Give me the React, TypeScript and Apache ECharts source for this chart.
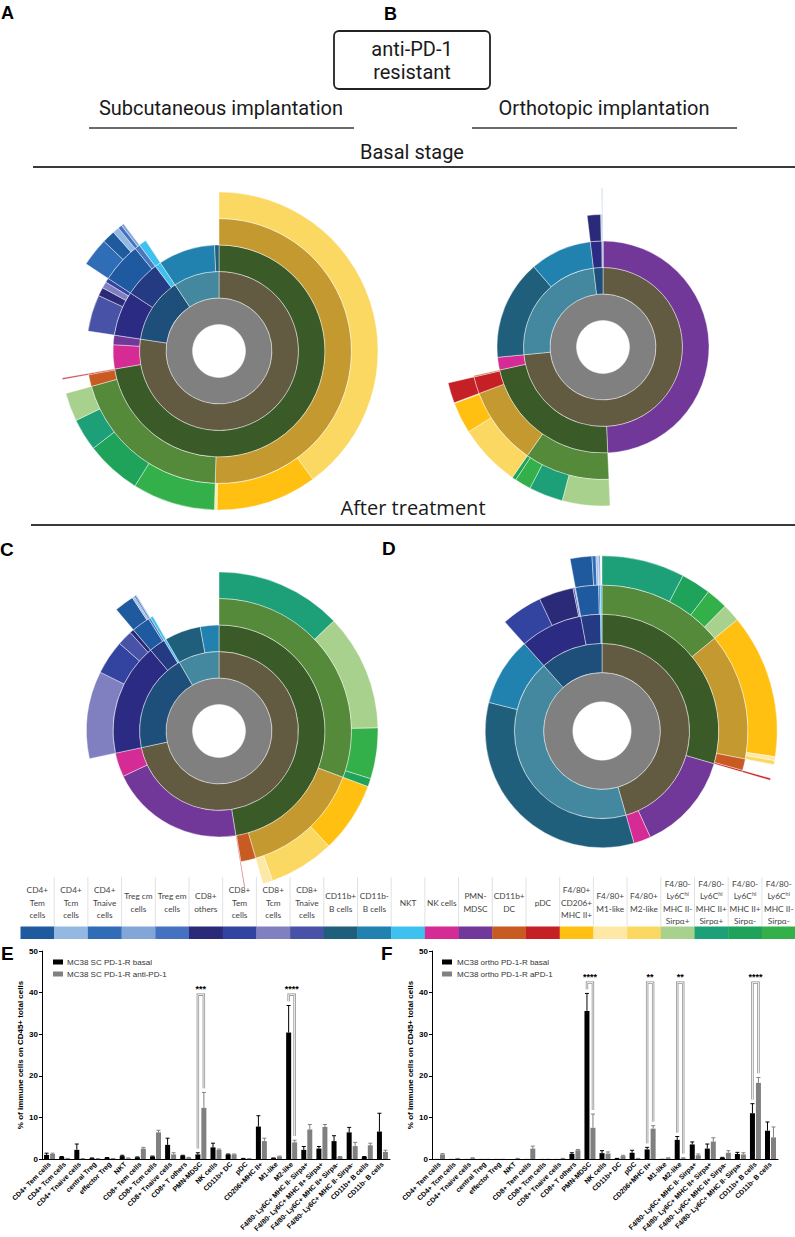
import React, { useEffect, useRef } from 'react';
import * as echarts from 'echarts';

// ---------------- data ----------------
const CATEGORIES = [
  'CD4+ Tem cells', 'CD4+ Tcm cells', 'CD4+ Tnaive cells', 'central Treg', 'effector Treg', 'NKT',
  'CD8+ Tem cells', 'CD8+ Tcm cells', 'CD8+ Tnaive cells', 'CD8+ T others', 'PMN-MDSC', 'NK cells',
  'CD11b+ DC', 'pDC', 'CD206+MHC II+', 'M1-like', 'M2-like',
  'F4/80- Ly6C+ MHC II- Sirpa+', 'F4/80- Ly6C+ MHC II+ Sirpa+', 'F4/80- Ly6C+ MHC II+ Sirpa-',
  'F4/80- Ly6C+ MHC II- Sirpa-', 'CD11b+ B cells', 'CD11b- B cells',
];

// panel E (subcutaneous)
const SC_BASAL = [1.0, 0.5, 2.2, 0.2, 0.3, 0.7, 0.4, 0.6, 3.4, 0.8, 1.1, 2.8, 1.1, 0.1, 7.8, 0.2, 30.4, 2.2, 2.5, 4.3, 6.4, 0.5, 6.6];
const SC_BASAL_ERR = [1.4, 0.6, 3.6, 0.25, 0.35, 0.9, 0.5, 0.7, 5.0, 0.9, 1.5, 3.8, 1.2, 0.15, 10.4, 0.25, 36.9, 3.0, 3.0, 5.6, 7.6, 0.6, 11.0];
const SC_TREATED = [1.2, 0.1, 0.05, 0.05, 0.1, 0.2, 2.5, 6.4, 1.1, 0.3, 12.3, 2.2, 1.1, 0.05, 4.3, 0.6, 4.0, 7.1, 7.7, 0.5, 3.1, 3.3, 1.7];
const SC_TREATED_ERR = [1.4, 0.15, 0.1, 0.1, 0.15, 0.25, 2.8, 6.9, 1.5, 0.4, 16.0, 2.4, 1.2, 0.1, 5.0, 0.7, 4.5, 8.3, 8.3, 0.6, 4.0, 3.8, 2.1];

// panel F (orthotopic)
const ORTHO_BASAL = [0.02, 0.02, 0.02, 0.02, 0.02, 0.02, 0.02, 0.02, 0.02, 1.2, 35.6, 1.4, 0.1, 1.5, 2.3, 0.05, 4.6, 3.5, 2.5, 0.3, 1.2, 11.0, 6.8];
const ORTHO_BASAL_ERR = [0.02, 0.02, 0.02, 0.02, 0.02, 0.02, 0.02, 0.02, 0.02, 1.5, 39.8, 2.0, 0.15, 2.1, 2.8, 0.05, 5.4, 4.1, 3.6, 0.4, 1.6, 13.3, 8.9];
const ORTHO_TREATED = [1.1, 0.1, 0.2, 0.05, 0.05, 0.1, 2.5, 0.05, 0.1, 2.1, 7.5, 1.3, 0.7, 0.1, 7.3, 0.2, 0.2, 0.9, 4.2, 1.5, 1.1, 18.3, 5.2];
const ORTHO_TREATED_ERR = [1.3, 0.15, 0.3, 0.05, 0.05, 0.15, 3.1, 0.05, 0.15, 2.3, 10.8, 1.7, 0.9, 0.15, 8.0, 0.3, 0.3, 1.2, 5.1, 2.0, 1.5, 19.6, 7.7];

const SIG_E = [{ cat: 10, label: '***' }, { cat: 16, label: '****' }];
const SIG_F = [{ cat: 10, label: '****' }, { cat: 14, label: '**' }, { cat: 16, label: '**' }, { cat: 21, label: '****' }];

// colours of each cell type (category order)
const CELL_COLORS = [
  '#1f5a9e', '#93b8e2', '#2f6db6', '#82a6d8', '#4472c0', '#3fc1f0',
  '#3343a0', '#8080c0', '#4853a8', '#2a2a78', '#713899', '#d42b94',
  '#c75b22', '#c42026', '#ffc011', '#fde9a5', '#fbd862',
  '#a9d18e', '#1d9f78', '#1fa25a', '#34b04a', '#1f5f7b', '#2182b0',
];

const LEGEND_ORDER = [0, 1, 2, 3, 4, 9, 6, 7, 8, 21, 22, 5, 11, 10, 12, 13, 14, 15, 16, 17, 18, 19, 20];
const LEGEND_LABELS = [
  'CD4+\nTem\ncells', 'CD4+\nTcm\ncells', 'CD4+\nTnaive\ncells', 'Treg cm\ncells', 'Treg em\ncells',
  'CD8+\nothers', 'CD8+\nTem\ncells', 'CD8+\nTcm\ncells', 'CD8+\nTnaive\ncells', 'CD11b+\nB cells',
  'CD11b-\nB cells', 'NKT', 'NK cells', 'PMN-\nMDSC', 'CD11b+\nDC', 'pDC', 'F4/80+\nCD206+\nMHC II+',
  'F4/80+\nM1-like', 'F4/80+\nM2-like', 'F4/80-\nLy6C{s|hi}\nMHC II-\nSirpα+', 'F4/80-\nLy6C{s|hi}\nMHC II+\nSirpα+',
  'F4/80-\nLy6C{s|hi}\nMHC II+\nSirpα-', 'F4/80-\nLy6C{s|hi}\nMHC II-\nSirpα-',
];

// sunburst hierarchy: leaves refer to category indices
type TreeNode = { name?: string; color?: string; children?: TreeNode[]; leaf?: number };
const HIERARCHY: TreeNode = {
  name: 'CD45+ cells', color: '#808080', children: [
    { name: 'Myeloid cells', color: '#635b41', children: [
      { name: 'CD11b+ myeloid cells', color: '#3a5a28', children: [
        { name: 'F4/80+ macrophages', color: '#c49a30', children: [{ leaf: 14 }, { leaf: 15 }, { leaf: 16 }] },
        { name: 'F4/80- Ly6Chi', color: '#548a3a', children: [{ leaf: 17 }, { leaf: 18 }, { leaf: 19 }, { leaf: 20 }] },
        { leaf: 12 },
        { name: 'CD11b- DC', color: '#c42026', children: [{ leaf: 13 }] },
      ] },
      { leaf: 11 },
      { leaf: 10 },
    ] },
    { name: 'T cells', color: '#1d4f7a', children: [
      { name: 'CD4+ T cells', color: '#243a82', children: [
        { name: 'CD4+ Tconv', color: '#1f5aa0', children: [{ leaf: 0 }, { leaf: 1 }, { leaf: 2 }] },
        { name: 'Treg', color: '#4a78c0', children: [{ leaf: 3 }, { leaf: 4 }] },
      ] },
      { name: 'CD8+ T cells', color: '#2b2b84', children: [{ leaf: 6 }, { leaf: 7 }, { leaf: 8 }, { leaf: 9 }] },
      { name: 'NKT cells', color: '#3fc1f0', children: [{ leaf: 5 }] },
    ] },
    { name: 'B cells', color: '#4488a0', children: [{ leaf: 21 }, { leaf: 22 }] },
  ],
};

// ---------------- builders ----------------
function buildTree(node: TreeNode, values: number[]): any {
  if (node.leaf !== undefined) {
    return { name: CATEGORIES[node.leaf], value: values[node.leaf], itemStyle: { color: CELL_COLORS[node.leaf] } };
  }
  return { name: node.name, itemStyle: { color: node.color }, children: (node.children || []).map((c) => buildTree(c, values)) };
}

function sunburst(values: number[], cx: number, cy: number, ring: number) {
  const levels: any[] = [{}];
  for (let d = 1; d <= 5; d++) levels.push({ r0: ring * d, r: ring * (d + 1) });
  return {
    type: 'sunburst', center: [cx, cy], radius: [ring, ring * 6], sort: 'desc', startAngle: 90, clockwise: true,
    nodeClick: false, silent: true, label: { show: false },
    itemStyle: { borderColor: 'rgba(255,255,255,0.6)', borderWidth: 0.7 },
    levels, data: [buildTree(HIERARCHY, values)],
  };
}

const BAR_W = 5;
const BAR_OFF = 3;
const FONT = 'Liberation Sans';

function errSeries(values: number[], errs: number[], sign: number, color: string, idx: number) {
  return {
    type: 'custom', xAxisIndex: idx, yAxisIndex: idx, silent: true, z: 3,
    encode: { x: 0, y: 1 },
    data: values.map((v, i) => [i, v, errs[i]]),
    renderItem: (params: any, api: any) => {
      const v = api.value(1), e = api.value(2);
      if (!(e > v + 0.02)) return null;
      const b = api.coord([api.value(0), v]);
      const t = api.coord([api.value(0), e]);
      const x = b[0] + sign * BAR_OFF;
      return {
        type: 'group', children: [
          { type: 'line', shape: { x1: x, y1: b[1], x2: x, y2: t[1] }, style: { stroke: color, lineWidth: 1 } },
          { type: 'line', shape: { x1: x - 2, y1: t[1], x2: x + 2, y2: t[1] }, style: { stroke: color, lineWidth: 1 } },
        ],
      };
    },
  };
}

function sigSeries(sigs: { cat: number; label: string }[], top: number, errA: number[], errB: number[], idx: number) {
  return {
    type: 'custom', xAxisIndex: idx, yAxisIndex: idx, silent: true, z: 4,
    encode: { x: 0, y: 1 },
    data: sigs.map((s) => [s.cat, top, errA[s.cat] + 1.0, errB[s.cat] + 1.0]),
    renderItem: (params: any, api: any) => {
      const c = api.value(0);
      const pt = api.coord([c, api.value(1)]);
      const pl = api.coord([c, api.value(2)]);
      const pr = api.coord([c, api.value(3)]);
      const xl = pt[0] - BAR_OFF, xr = pt[0] + BAR_OFF;
      const pts = [[xl, pl[1]], [xl, pt[1]], [xr, pt[1]], [xr, pr[1]]];
      return {
        type: 'group', children: [
          { type: 'polyline', shape: { points: pts }, style: { stroke: '#8a8a8a', lineWidth: 2.4, fill: 'none' } },
          { type: 'polyline', shape: { points: pts }, style: { stroke: '#ffffff', lineWidth: 0.9, fill: 'none' } },
          { type: 'text', style: { text: sigs[params.dataIndex].label, x: pt[0], y: pt[1] - 1, align: 'center', verticalAlign: 'bottom', fontSize: 9, fontWeight: 'bold', fontFamily: FONT, fill: '#000' } },
        ],
      };
    },
  };
}

function xAxis(idx: number) {
  return {
    type: 'category', gridIndex: idx, data: CATEGORIES,
    axisLine: { lineStyle: { color: '#000', width: 1 } }, axisTick: { show: false },
    axisLabel: { interval: 0, rotate: 45, fontSize: 7, fontWeight: 'bold', fontFamily: FONT, color: '#000', margin: 4 },
  };
}
function yAxis(idx: number) {
  return {
    type: 'value', gridIndex: idx, min: 0, max: 50, interval: 10,
    name: '% of immune cells on CD45+ total cells', nameLocation: 'middle', nameGap: 18,
    nameTextStyle: { fontSize: 8, fontWeight: 'bold', fontFamily: FONT, color: '#000' },
    axisLine: { show: true, lineStyle: { color: '#000', width: 1 } },
    axisTick: { show: true, length: 3, lineStyle: { color: '#000' } },
    axisLabel: { fontSize: 8, fontWeight: 'bold', fontFamily: FONT, color: '#000', margin: 4 },
    splitLine: { show: false },
  };
}

// ---------------- graphic (header, legend strip) ----------------
function txt(text: string, x: number, y: number, size: number, opts: any = {}) {
  return {
    type: 'text', silent: true,
    style: { text, x, y, fontSize: size, fontFamily: opts.family || 'Roboto', fontWeight: opts.weight || 'normal', fill: opts.fill || '#1a1a1a', align: opts.align || 'center', verticalAlign: 'middle' },
  };
}
function hline(x1: number, x2: number, y: number, w = 1.6) {
  return { type: 'line', silent: true, shape: { x1, y1: y, x2, y2: y }, style: { stroke: '#3a3a3a', lineWidth: w } };
}

const graphics: any[] = [
  txt('A', 1, 13, 18, { family: FONT, weight: 'bold', align: 'left', fill: '#000' }),
  txt('B', 384, 14, 18, { family: FONT, weight: 'bold', align: 'left', fill: '#000' }),
  { type: 'rect', silent: true, shape: { x: 334, y: 31, width: 156, height: 58, r: 5 }, style: { fill: '#fff', stroke: '#222', lineWidth: 1.8 } },
  txt('anti-PD-1', 412, 49, 20),
  txt('resistant', 412, 72, 20),
  txt('Subcutaneous implantation', 221, 108, 20),
  hline(89, 354, 128),
  txt('Orthotopic implantation', 604, 108, 20),
  hline(472, 737, 128),
  txt('Basal stage', 412, 152, 20),
  hline(33, 795, 167, 2),
  txt('After treatment', 413, 507, 20, { family: 'Open Sans' }),
  hline(31, 795, 525, 2),
  txt('C', 0, 549, 19, { family: FONT, weight: 'bold', align: 'left', fill: '#000' }),
  txt('D', 382, 548, 19, { family: FONT, weight: 'bold', align: 'left', fill: '#000' }),
  txt('E', 1, 953, 19, { family: FONT, weight: 'bold', align: 'left', fill: '#000' }),
  txt('F', 381, 953, 19, { family: FONT, weight: 'bold', align: 'left', fill: '#000' }),
  // bar-chart legends
  { type: 'rect', silent: true, shape: { x: 53, y: 959.5, width: 10, height: 5 }, style: { fill: '#000' } },
  txt('MC38 SC PD-1-R basal', 67, 962, 8, { family: FONT, align: 'left', fill: '#333' }),
  { type: 'rect', silent: true, shape: { x: 53, y: 971.5, width: 10, height: 5 }, style: { fill: '#808080' } },
  txt('MC38 SC PD-1-R anti-PD-1', 67, 974, 8, { family: FONT, align: 'left', fill: '#333' }),
  { type: 'rect', silent: true, shape: { x: 442, y: 959.5, width: 10, height: 5 }, style: { fill: '#000' } },
  txt('MC38 ortho PD-1-R basal', 457, 962, 8, { family: FONT, align: 'left', fill: '#333' }),
  { type: 'rect', silent: true, shape: { x: 442, y: 971.5, width: 10, height: 5 }, style: { fill: '#808080' } },
  txt('MC38 ortho PD-1-R aPD-1', 457, 974, 8, { family: FONT, align: 'left', fill: '#333' }),
];

const LEG_X0 = 20.5, LEG_W = 33.7;
LEGEND_ORDER.forEach((cat, i) => {
  const x0 = LEG_X0 + i * LEG_W;
  if (i > 0) graphics.push({ type: 'line', silent: true, shape: { x1: x0, y1: 877, x2: x0, y2: 926 }, style: { stroke: '#e2e2e2', lineWidth: 1 } });
  graphics.push({
    type: 'text', silent: true,
    style: {
      text: LEGEND_LABELS[i], x: x0 + LEG_W / 2, y: 902.5, align: 'center', verticalAlign: 'middle',
      fontSize: 8.3, fontFamily: 'Lato', fill: '#444', lineHeight: 12.3,
      rich: { s: { fontSize: 5.5, fontFamily: 'Lato', fill: '#444', padding: [0, 0, 5, 0] } },
    },
  });
  graphics.push({ type: 'rect', silent: true, shape: { x: x0, y: 926.5, width: LEG_W + 0.3, height: 12.5 }, style: { fill: CELL_COLORS[cat] } });
});

const option: any = {
  animation: false,
  backgroundColor: '#ffffff',
  grid: [
    { left: 42, top: 951, width: 348, height: 208 },
    { left: 432, top: 951, width: 346, height: 208 },
  ],
  xAxis: [xAxis(0), xAxis(1)],
  yAxis: [yAxis(0), yAxis(1)],
  graphic: graphics,
  series: [
    sunburst(SC_BASAL, 219, 351, 26.5),
    sunburst(ORTHO_BASAL, 603, 347, 26.5),
    sunburst(SC_TREATED, 219, 731, 26.5),
    sunburst(ORTHO_TREATED, 602, 731, 29.2),
    { type: 'bar', name: 'MC38 SC PD-1-R basal', xAxisIndex: 0, yAxisIndex: 0, data: SC_BASAL, barWidth: BAR_W, barGap: '20%', itemStyle: { color: '#000' }, silent: true },
    { type: 'bar', name: 'MC38 SC PD-1-R anti-PD-1', xAxisIndex: 0, yAxisIndex: 0, data: SC_TREATED, barWidth: BAR_W, barGap: '20%', itemStyle: { color: '#808080' }, silent: true },
    { type: 'bar', name: 'MC38 ortho PD-1-R basal', xAxisIndex: 1, yAxisIndex: 1, data: ORTHO_BASAL, barWidth: BAR_W, barGap: '20%', itemStyle: { color: '#000' }, silent: true },
    { type: 'bar', name: 'MC38 ortho PD-1-R aPD-1', xAxisIndex: 1, yAxisIndex: 1, data: ORTHO_TREATED, barWidth: BAR_W, barGap: '20%', itemStyle: { color: '#808080' }, silent: true },
    errSeries(SC_BASAL, SC_BASAL_ERR, -1, '#000', 0),
    errSeries(SC_TREATED, SC_TREATED_ERR, 1, '#808080', 0),
    errSeries(ORTHO_BASAL, ORTHO_BASAL_ERR, -1, '#000', 1),
    errSeries(ORTHO_TREATED, ORTHO_TREATED_ERR, 1, '#808080', 1),
    sigSeries(SIG_E, 39.5, SC_BASAL_ERR, SC_TREATED_ERR, 0),
    sigSeries(SIG_F, 42.4, ORTHO_BASAL_ERR, ORTHO_TREATED_ERR, 1),
  ],
};

export default function App() {
  const ref = useRef<HTMLDivElement>(null);
  useEffect(() => {
    const chart = echarts.init(ref.current as HTMLDivElement, null, { renderer: 'svg', width: 795, height: 1237 });
    chart.setOption(option);
    return () => chart.dispose();
  }, []);
  return <div ref={ref} style={{ position: 'absolute', left: 0, top: 0, width: 795, height: 1237, background: '#fff' }} />;
}
